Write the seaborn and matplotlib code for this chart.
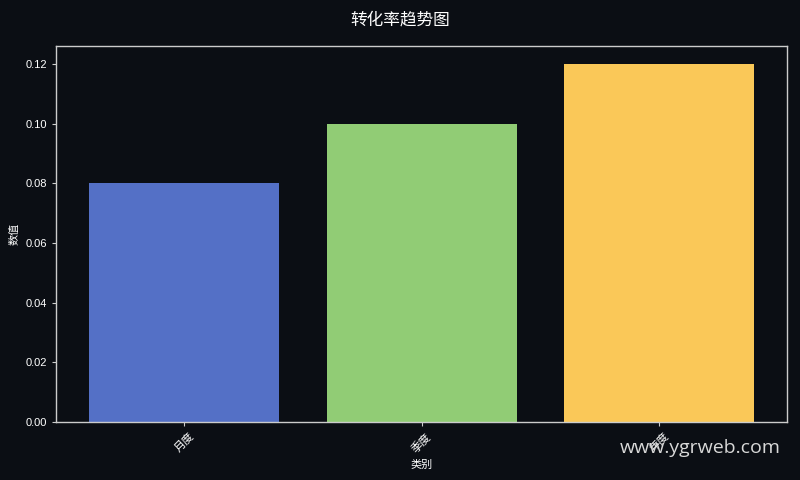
import numpy as np
import pandas as pd
import seaborn as sns
import matplotlib.pyplot as plt

# Data
categories = ['月度', '季度', '年度']
values = [0.08, 0.10, 0.12]
bar_colors = ['#5470c6', '#91cc75', '#fac858']

bg = '#0b0e14'
sns.set_style('dark')
plt.rcParams['font.family'] = ['Liberation Sans', 'Noto Sans CJK SC', 'DejaVu Sans']
plt.rcParams['axes.unicode_minus'] = False

df = pd.DataFrame({'类别': categories, '数值': values})

fig = plt.figure(figsize=(8, 4.8), dpi=100, facecolor=bg)
ax = fig.add_axes([0.07, 0.121, 0.914, 0.783])
ax.set_facecolor(bg)

sns.barplot(data=df, x='类别', y='数值', hue='类别', palette=bar_colors,
            legend=False, width=0.8, saturation=1, edgecolor='none',
            linewidth=0, ax=ax)
ax.set_xlim(-0.54, 2.54)
ax.set_ylim(0, 0.126)

for s in ax.spines.values():
    s.set_color('#cccccc')
    s.set_linewidth(1)
ax.tick_params(colors='#cccccc', labelcolor='white', labelsize=8, length=3,
               bottom=True, left=True)
ax.set_yticks(np.arange(0, 0.121, 0.02))
ax.set_yticklabels([f'{v:.2f}' for v in np.arange(0, 0.121, 0.02)])
plt.setp(ax.get_xticklabels(), rotation=45)
ax.set_xlabel('类别', color='white', fontsize=8)
ax.set_ylabel('数值', color='white', fontsize=8)
ax.grid(False)

fig.suptitle('转化率趋势图', color='white', fontsize=12, y=0.975)
fig.text(0.976, 0.066, 'www.ygrweb.com', color='#d8d8d8', fontsize=14,
         ha='right', va='center', family=['Open Sans', 'DejaVu Sans'])

fig.savefig('out.png', dpi=100, facecolor=bg)
